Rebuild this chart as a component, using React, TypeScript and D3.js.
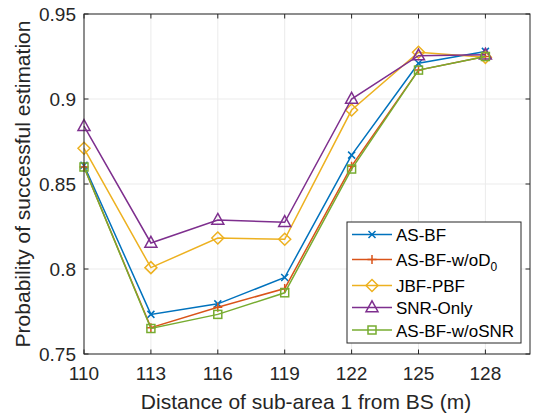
import React from "react";
import * as d3 from "d3";

const distances = [110, 113, 116, 119, 122, 125, 128];
const asBF = [0.861, 0.7733, 0.7795, 0.795, 0.867, 0.921, 0.928];
const asBFwoD0 = [0.860, 0.7655, 0.7775, 0.7885, 0.8605, 0.917, 0.925];
const jbfPBF = [0.871, 0.8008, 0.8182, 0.8175, 0.8935, 0.9275, 0.9245];
const snrOnly = [0.884, 0.8153, 0.8288, 0.8275, 0.9, 0.9255, 0.926];
const asBFwoSNR = [0.860, 0.765, 0.7733, 0.786, 0.8588, 0.917, 0.925];
const xTicks = [110, 113, 116, 119, 122, 125, 128];
const yTicks = [0.75, 0.8, 0.85, 0.9, 0.95];
const yTickLabels = ["0.75", "0.8", "0.85", "0.9", "0.95"];

const series = [
  { name: "AS-BF", values: asBF, color: "#0072BD", marker: "x" },
  { name: "AS-BF-w/oD", sub: "0", values: asBFwoD0, color: "#D95319", marker: "+" },
  { name: "JBF-PBF", values: jbfPBF, color: "#EDB120", marker: "diamond" },
  { name: "SNR-Only", values: snrOnly, color: "#7E2F8E", marker: "triangle" },
  { name: "AS-BF-w/oSNR", values: asBFwoSNR, color: "#77AC30", marker: "square" },
];

const W = 533, H = 417;
const L = 84, T = 14, R = 530, B = 354;
const FONT = "'Liberation Sans', Arial, sans-serif";

function Marker({ type, x, y, color }: { type: string; x: number; y: number; color: string }) {
  const sw = 1.5;
  if (type === "x") {
    const s = 3.5;
    return <path d={`M${x - s},${y - s}L${x + s},${y + s}M${x - s},${y + s}L${x + s},${y - s}`} stroke={color} strokeWidth={sw} fill="none" />;
  }
  if (type === "+") {
    const s = 4.5;
    return <path d={`M${x - s},${y}L${x + s},${y}M${x},${y - s}L${x},${y + s}`} stroke={color} strokeWidth={sw} fill="none" />;
  }
  if (type === "diamond") {
    const s = 6;
    return <path d={`M${x},${y - s}L${x + s},${y}L${x},${y + s}L${x - s},${y}Z`} stroke={color} strokeWidth={sw} fill="none" />;
  }
  if (type === "triangle") {
    const s = 6;
    return <path d={`M${x},${y - s * 1.1}L${x + s},${y + s * 0.7}L${x - s},${y + s * 0.7}Z`} stroke={color} strokeWidth={sw} fill="none" />;
  }
  const s = 4;
  return <rect x={x - s} y={y - s} width={2 * s} height={2 * s} stroke={color} strokeWidth={sw} fill="none" />;
}

export default function App() {
  const x = d3.scaleLinear().domain([110, 130]).range([L, R]);
  const y = d3.scaleLinear().domain([0.75, 0.95]).range([B, T]);
  const line = d3.line<number>().x((_, i) => x(distances[i])).y((d) => y(d));
  const tick = 4.5;
  const axisColor = "#262626";

  const legX = 347, legY = 222, legW = 174, legH = 121;
  const legRows = [234.5, 259.5, 285.5, 307.5, 330];

  return (
    <svg width={W} height={H} style={{ position: "absolute", left: 0, top: 0, background: "#fff" }}>
      <rect x={0} y={0} width={W} height={H} fill="#fff" />
      {xTicks.map((t) => (
        <line key={"gx" + t} x1={x(t)} x2={x(t)} y1={T} y2={B} stroke="#ebebeb" strokeWidth={1} />
      ))}
      {yTicks.map((t) => (
        <line key={"gy" + t} x1={L} x2={R} y1={y(t)} y2={y(t)} stroke="#ebebeb" strokeWidth={1} />
      ))}
      {series.map((s) => (
        <g key={s.name}>
          <path d={line(s.values) || ""} stroke={s.color} strokeWidth={1.5} fill="none" />
          {s.values.map((v, i) => (
            <Marker key={i} type={s.marker} x={x(distances[i])} y={y(v)} color={s.color} />
          ))}
        </g>
      ))}
      <rect x={L} y={T} width={R - L} height={B - T} fill="none" stroke={axisColor} strokeWidth={1} />
      {xTicks.map((t) => (
        <g key={"tx" + t}>
          <line x1={x(t)} x2={x(t)} y1={B} y2={B - tick} stroke={axisColor} />
          <line x1={x(t)} x2={x(t)} y1={T} y2={T + tick} stroke={axisColor} />
          <text x={x(t)} y={380} textAnchor="middle" fontFamily={FONT} fontSize={19} fill={axisColor}>{t}</text>
        </g>
      ))}
      {yTicks.map((t, i) => (
        <g key={"ty" + t}>
          <line x1={L} x2={L + tick} y1={y(t)} y2={y(t)} stroke={axisColor} />
          <line x1={R} x2={R - tick} y1={y(t)} y2={y(t)} stroke={axisColor} />
          <text x={76} y={y(t) + 7} textAnchor="end" fontFamily={FONT} fontSize={19} fill={axisColor}>{yTickLabels[i]}</text>
        </g>
      ))}
      <text x={(L + R) / 2 - 1} y={409} textAnchor="middle" fontFamily={FONT} fontSize={21} fill={axisColor}>
        Distance of sub-area 1 from BS (m)
      </text>
      <text transform={`translate(30,${(T + B) / 2}) rotate(-90)`} textAnchor="middle" fontFamily={FONT} fontSize={21} fill={axisColor}>
        Probability of successful estimation
      </text>
      <rect x={legX} y={legY} width={legW} height={legH} fill="#fff" stroke={axisColor} strokeWidth={1} />
      {series.map((s, i) => (
        <g key={"lg" + s.name}>
          <line x1={352} x2={392} y1={legRows[i]} y2={legRows[i]} stroke={s.color} strokeWidth={1.5} />
          <Marker type={s.marker} x={372} y={legRows[i]} color={s.color} />
          <text x={396} y={legRows[i] + 6.5} fontFamily={FONT} fontSize={17} fill="#000">
            {s.name}
            {s.sub ? <tspan dy={5} fontSize={12}>{s.sub}</tspan> : null}
          </text>
        </g>
      ))}
    </svg>
  );
}
